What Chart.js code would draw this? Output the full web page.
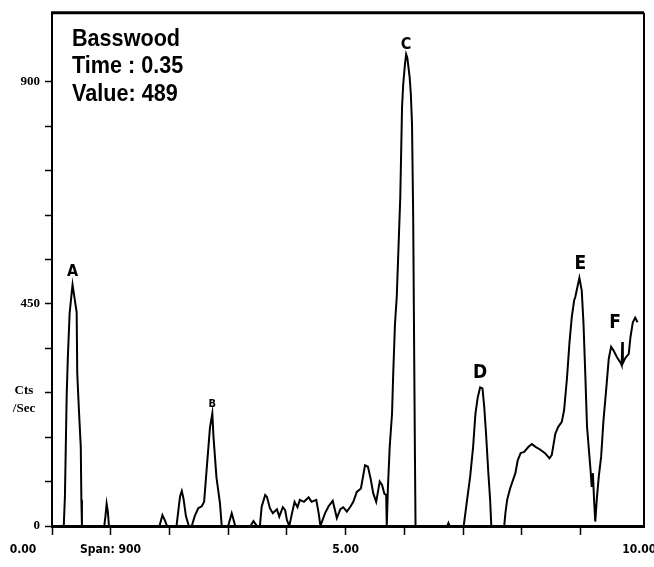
<!DOCTYPE html>
<html>
<head>
<meta charset="utf-8">
<script src="https://cdn.jsdelivr.net/npm/chart.js@4.4.1/dist/chart.umd.min.js"></script>
<style>
  html, body { margin: 0; padding: 0; background: #fff; }
  canvas { display: block; }
</style>
</head>
<body>
<canvas id="trace" width="654" height="567"></canvas>
<script>
// Basswood trace: time against counts per second
const times = [
  0.00, 0.20, 0.22, 0.25, 0.27, 0.30, 0.32, 0.35, 0.38, 0.42, 0.43, 0.46, 0.49, 0.50, 0.51,
  0.89, 0.91, 0.93, 0.95, 0.97,
  1.83, 1.88, 1.92, 1.96,
  2.12, 2.15, 2.18, 2.21, 2.24, 2.28, 2.33,
  2.38, 2.43, 2.49, 2.55, 2.59, 2.65, 2.69, 2.73, 2.75, 2.80, 2.86, 2.89,
  3.00, 3.06, 3.12,
  3.38, 3.43, 3.49,
  3.54, 3.57, 3.63, 3.66, 3.71, 3.76, 3.83, 3.87, 3.93, 3.97, 4.00, 4.04,
  4.08, 4.13, 4.18, 4.22, 4.29, 4.37, 4.42, 4.50, 4.54, 4.57,
  4.65, 4.71, 4.78, 4.85, 4.91, 4.96, 5.02, 5.08, 5.13, 5.19, 5.26, 5.33, 5.38, 5.43,
  5.47, 5.52, 5.58, 5.62, 5.66, 5.69, 5.70,
  5.72, 5.75, 5.79, 5.81, 5.84, 5.87, 5.90, 5.93, 5.96, 5.98, 6.01, 6.03,
  6.05, 6.09, 6.11, 6.13, 6.15, 6.18, 6.19,
  6.73, 6.75, 6.77,
  7.01, 7.06, 7.12, 7.17, 7.21, 7.25, 7.29, 7.33, 7.36, 7.39, 7.43, 7.46, 7.48,
  7.70, 7.72, 7.75, 7.80, 7.89, 7.93, 7.98, 8.04, 8.11, 8.17, 8.24, 8.31, 8.40, 8.47, 8.51,
  8.57, 8.62, 8.68, 8.72, 8.77, 8.81, 8.85, 8.89, 8.91, 8.98,
  9.02, 9.05, 9.08, 9.11, 9.17, 9.19, 9.21, 9.23, 9.25,
  9.28, 9.31, 9.35, 9.39, 9.44, 9.48, 9.52, 9.56, 9.62, 9.69, 9.70, 9.71, 9.72,
  9.76, 9.82, 9.85, 9.89, 9.93, 9.97
];
const counts = [
  0, 0, 59, 265, 342, 431, 455, 489, 465, 433, 309, 231, 160, 53, 0,
  0, 20, 45, 30, 0,
  0, 22, 12, 0,
  0, 30, 60, 71, 55, 20, 0,
  0, 20, 36, 40, 49, 140, 200, 228, 180, 99, 46, 0,
  0, 26, 0,
  0, 10, 0,
  0, 39, 63, 59, 36, 26, 34, 19, 38, 32, 12, 0,
  22, 49, 38, 53, 49, 58, 49, 53, 26, 0,
  26, 40, 51, 16, 34, 38, 29, 39, 49, 69, 76, 123, 120, 93,
  66, 49, 90, 83, 65, 63, 0,
  79, 160, 228, 309, 410, 464, 565, 666, 848, 895, 936, 956,
  949, 909, 875, 814, 626, 140, 0,
  0, 6, 0,
  0, 46, 100, 160, 228, 261, 281, 279, 241, 188, 107, 53, 0,
  0, 26, 53, 76, 107, 133, 148, 150, 160, 166, 160, 155, 147, 137, 144,
  187, 201, 211, 235, 302, 370, 423, 457, 464, 503,
  477, 410, 309, 201, 113, 79, 107, 53, 9,
  60, 100, 140, 214, 282, 339, 363, 356, 342, 329, 326, 373, 330,
  340, 349, 383, 413, 422, 413
];

// peak names and where they sit on the time axis
const peakNames = ['A', 'B', 'C', 'D', 'E', 'F'];
const peakTimes = [0.35, 2.73, 6.03, 7.29, 8.98, 9.52];

// cursor readout
const sampleName = 'Basswood';
const cursorTime = 0.35;
const cursorValue = 489;
const span = 900;

// labelled ticks
const yLabelValues = [0, 450, 900];
const xLabelValues = [5, 10];

const peakStyle = {
  A: { size: 16, dx: 0, dy: 13 },
  B: { size: 11, dx: 0, dy: 9 },
  C: { size: 16, dx: 0, dy: 9 },
  D: { size: 19, dx: 0, dy: 14 },
  E: { size: 19, dx: 1, dy: 14 },
  F: { size: 19, dx: 4, dy: 24 }
};

const condensed = '"DejaVu Sans Condensed", "Liberation Sans Narrow", sans-serif';
const serif = '"Liberation Serif", "DejaVu Serif", serif';

// frame, readout text and peak letters
const tracePlugin = {
  id: 'traceDecor',
  afterDraw(chart) {
    const { ctx, chartArea: area, scales: { x, y } } = chart;
    ctx.save();
    ctx.strokeStyle = '#000';

    // top and right border
    ctx.lineWidth = 3;
    ctx.beginPath();
    ctx.moveTo(area.left - 1, area.top);
    ctx.lineTo(area.right, area.top);
    ctx.stroke();
    ctx.lineWidth = 2;
    ctx.beginPath();
    ctx.moveTo(area.right, area.top);
    ctx.lineTo(area.right, area.bottom + 2);
    ctx.stroke();

    ctx.fillStyle = '#000';

    // readout
    ctx.save();
    ctx.font = 'bold 24px "Liberation Sans", Arial, sans-serif';
    ctx.textAlign = 'left';
    ctx.textBaseline = 'alphabetic';
    ctx.translate(area.left + 20, area.top);
    ctx.scale(0.9, 1);
    ctx.fillText(sampleName, 0, 33);
    ctx.fillText('Time : ' + cursorTime.toFixed(2), 0, 60);
    ctx.fillText('Value: ' + cursorValue, 0, 88);
    ctx.restore();

    // peak letters
    ctx.textAlign = 'center';
    ctx.textBaseline = 'middle';
    peakNames.forEach((name, i) => {
      const st = peakStyle[name];
      const t = peakTimes[i];
      const v = counts[times.indexOf(t)];
      ctx.font = 'bold ' + st.size + 'px ' + condensed;
      ctx.fillText(name, x.getPixelForValue(t) + st.dx, y.getPixelForValue(v) - st.dy);
    });

    // time axis labels
    ctx.font = 'bold 12px ' + condensed;
    ctx.textBaseline = 'alphabetic';
    const ly = area.bottom + 27;
    ctx.textAlign = 'center';
    ctx.fillText((0).toFixed(2), x.getPixelForValue(0) - 29, ly);
    xLabelValues.forEach(v => ctx.fillText(v.toFixed(2), x.getPixelForValue(v), ly));
    ctx.textAlign = 'left';
    ctx.fillText('Span: ' + span, x.getPixelForValue(0) + 28, ly);

    // counts axis title
    ctx.font = 'bold 13px ' + serif;
    ctx.textAlign = 'center';
    ctx.fillText('Cts', 24, y.getPixelForValue(270) + 1);
    ctx.fillText('/Sec', 24, y.getPixelForValue(235) + 2);

    ctx.restore();
  }
};

const chart = new Chart(document.getElementById('trace'), {
  type: 'line',
  data: {
    datasets: [{
      data: times.map((t, i) => ({ x: t, y: counts[i] })),
      borderColor: '#000',
      borderWidth: 2,
      pointRadius: 0,
      tension: 0,
      fill: false
    }]
  },
  options: {
    responsive: false,
    animation: false,
    devicePixelRatio: 1,
    layout: { padding: { left: 0, top: 12, right: 10, bottom: 0 } },
    plugins: {
      legend: { display: false },
      tooltip: { enabled: false }
    },
    scales: {
      x: {
        type: 'linear',
        min: 0,
        max: 10.08,
        afterBuildTicks: axis => {
          axis.ticks = axis.ticks.filter(t => Math.abs(t.value - Math.round(t.value)) < 1e-6);
        },
        afterFit: axis => { axis.height = 41; },
        ticks: {
          stepSize: 1,
          callback: () => ''
        },
        grid: {
          drawOnChartArea: false,
          drawTicks: true,
          tickLength: 9,
          tickWidth: 1.5,
          tickColor: '#000'
        },
        border: { display: true, color: '#000', width: 3 }
      },
      y: {
        type: 'linear',
        min: 0,
        max: 1040,
        afterBuildTicks: axis => {
          axis.ticks = axis.ticks.filter(t => t.value <= 900 && t.value % 90 === 0);
        },
        afterFit: axis => { axis.width = 52; },
        ticks: {
          stepSize: 90,
          padding: 5,
          color: '#000',
          font: { family: serif, size: 13, weight: 'bold' },
          callback: v => yLabelValues.includes(v) ? String(v) : ''
        },
        grid: {
          drawOnChartArea: false,
          drawTicks: true,
          tickLength: 7,
          tickWidth: 1.5,
          tickColor: '#000'
        },
        border: { display: true, color: '#000', width: 2 }
      }
    }
  },
  plugins: [tracePlugin]
});
</script>
</body>
</html>
